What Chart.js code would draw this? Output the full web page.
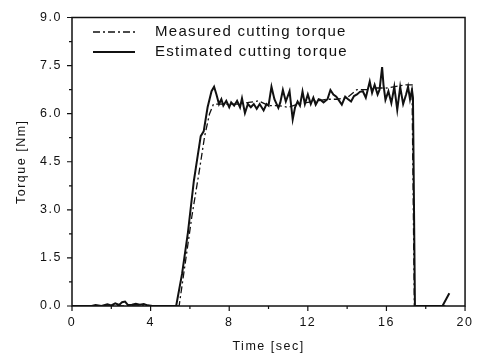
<!DOCTYPE html>
<html>
<head>
<meta charset="utf-8">
<script src="https://cdn.jsdelivr.net/npm/chart.js@4"></script>
<style>
  html, body { margin: 0; padding: 0; background: #fff; }
  #wrap { width: 481px; height: 358px; }
</style>
</head>
<body>
<div id="wrap"><canvas id="chart"></canvas></div>
<script>
// measured torque (dash-dot)
const measTime = [0, 5.45, 5.8, 6.1, 6.5, 6.75, 7.0, 7.2, 7.5, 8.0, 8.5, 9.0, 9.5, 10.0, 10.5, 11.0, 11.5, 12.0, 12.5, 13.0, 13.5, 14.0, 14.5, 15.0, 15.5, 16.0, 16.5, 17.0, 17.3, 17.42, 19.0];
const measTorque = [0, 0, 1.5, 2.8, 4.3, 5.3, 6.0, 6.3, 6.3, 6.3, 6.3, 6.35, 6.4, 6.25, 6.25, 6.2, 6.3, 6.35, 6.4, 6.45, 6.45, 6.5, 6.75, 6.75, 6.8, 6.8, 6.85, 6.9, 6.9, 0, 0];

// estimated torque (solid)
const estTime = [0, 1.0, 1.2, 1.5, 1.8, 2.0, 2.2, 2.4, 2.55, 2.7, 2.85, 3.05, 3.25, 3.45, 3.65, 3.85, 4.1, 5.3,
  5.6, 5.9, 6.2, 6.3, 6.55, 6.7, 6.9, 7.1, 7.23, 7.35, 7.48, 7.6, 7.7, 7.85, 8.0, 8.1, 8.25, 8.4, 8.55, 8.65, 8.8, 8.95,
  9.1, 9.25, 9.4, 9.55, 9.75, 9.9, 10.0, 10.15, 10.3, 10.5, 10.6, 10.73, 10.88, 11.07, 11.23, 11.35, 11.48, 11.6, 11.73, 11.85,
  12.0, 12.15, 12.28, 12.4, 12.55, 12.65, 12.8, 13.0, 13.15, 13.3, 13.45, 13.6, 13.73, 13.9, 14.05, 14.2, 14.35, 14.5, 14.65, 14.8,
  14.95, 15.15, 15.27, 15.4, 15.55, 15.65, 15.78, 15.85, 15.95, 16.1, 16.25, 16.4, 16.55, 16.7, 16.85, 17.0, 17.1, 17.2, 17.3, 17.35,
  17.45, 18.0, 18.85, 19.2];
const estTorque = [0, 0, 0.03, 0, 0.05, 0.02, 0.08, 0.03, 0.12, 0.14, 0.03, 0.04, 0.07, 0.04, 0.06, 0.02, 0, 0,
  1.0, 2.3, 3.9, 4.3, 5.3, 5.45, 6.2, 6.7, 6.84, 6.6, 6.3, 6.45, 6.25, 6.4, 6.2, 6.35, 6.25, 6.4, 6.2, 6.48, 6.02, 6.3,
  6.2, 6.3, 6.15, 6.3, 6.1, 6.3, 6.25, 6.84, 6.45, 6.18, 6.35, 6.74, 6.38, 6.7, 5.82, 6.2, 6.38, 6.25, 6.69, 6.3,
  6.6, 6.3, 6.5, 6.28, 6.45, 6.43, 6.35, 6.45, 6.74, 6.6, 6.53, 6.4, 6.28, 6.53, 6.45, 6.38, 6.55, 6.6, 6.68, 6.7,
  6.5, 7.0, 6.65, 6.9, 6.6, 6.75, 7.45, 6.9, 6.43, 6.7, 6.33, 6.84, 6.12, 6.84, 6.3, 6.6, 6.84, 6.45, 6.74, 6.5,
  0, 0, 0, 0.4];

const xTicks = [0, 4, 8, 12, 16, 20];
const yTicks = [0, 1.5, 3.0, 4.5, 6.0, 7.5, 9.0];
const seriesLabels = ['Measured cutting torque', 'Estimated cutting torque'];

const toPoints = (xs, ys) => xs.map((x, i) => ({ x: x, y: ys[i] }));

const INK = '#111';
const FONT = '"Liberation Sans", Arial, sans-serif';

// frame, outward ticks and legend
const framePlugin = {
  id: 'frame',
  beforeDraw(chart) {
    chart.ctx.letterSpacing = '1.5px';
  },
  afterDraw(chart) {
    const { ctx, chartArea: a, scales } = chart;
    ctx.save();
    ctx.letterSpacing = '0px';
    ctx.strokeStyle = INK;
    ctx.lineWidth = 1.5;
    ctx.strokeRect(a.left, a.top, a.right - a.left, a.bottom - a.top);

    ctx.lineWidth = 1.2;
    ctx.beginPath();
    // y ticks (major + minor)
    for (let v = 0; v <= 9.001; v += 0.75) {
      const y = scales.y.getPixelForValue(v);
      const len = Math.abs(v / 1.5 - Math.round(v / 1.5)) < 0.01 ? 5 : 3;
      ctx.moveTo(a.left - len, y);
      ctx.lineTo(a.left, y);
    }
    // x ticks
    for (let t = 0; t <= 20; t += 2) {
      const x = scales.x.getPixelForValue(t);
      const len = t % 4 === 0 ? 5 : 3;
      ctx.moveTo(x, a.bottom);
      ctx.lineTo(x, a.bottom + len);
    }
    ctx.stroke();

    // legend
    const rows = [32, 52];
    chart.data.datasets.forEach((ds, i) => {
      const y = rows[i];
      ctx.beginPath();
      ctx.setLineDash(ds.borderDash || []);
      ctx.lineWidth = ds.borderWidth;
      ctx.strokeStyle = ds.borderColor;
      ctx.moveTo(93, y);
      ctx.lineTo(135, y);
      ctx.stroke();
      ctx.setLineDash([]);
      ctx.fillStyle = INK;
      ctx.font = '15px ' + FONT;
      ctx.letterSpacing = '1.3px';
      ctx.textBaseline = 'middle';
      ctx.textAlign = 'left';
      ctx.fillText(ds.label, 155, y);
    });
    ctx.restore();
  }
};

new Chart(document.getElementById('chart'), {
  type: 'line',
  data: {
    datasets: [
      {
        label: seriesLabels[0],
        data: toPoints(measTime, measTorque),
        borderColor: INK,
        borderWidth: 1.3,
        borderDash: [7, 3, 2, 3],
        pointRadius: 0,
        tension: 0
      },
      {
        label: seriesLabels[1],
        data: toPoints(estTime, estTorque),
        borderColor: INK,
        borderWidth: 2,
        pointRadius: 0,
        tension: 0
      }
    ]
  },
  options: {
    responsive: true,
    maintainAspectRatio: false,
    animation: false,
    layout: { padding: { top: 13, right: 9, left: 0, bottom: 0 } },
    plugins: {
      legend: { display: false },
      tooltip: { enabled: false }
    },
    scales: {
      x: {
        type: 'linear',
        min: 0,
        max: 20,
        afterFit: s => { s.height = 52; },
        afterBuildTicks: s => { s.ticks = xTicks.map(v => ({ value: v })); },
        ticks: { color: INK, font: { family: FONT, size: 12.5 }, padding: 9, maxRotation: 0 },
        grid: { display: false, drawTicks: false },
        border: { display: false },
        title: { display: true, text: 'Time [sec]', color: INK, font: { family: FONT, size: 12.5 }, padding: { top: 0, bottom: 4 } }
      },
      y: {
        min: 0,
        max: 9,
        afterFit: s => { s.width = 72; },
        afterBuildTicks: s => { s.ticks = yTicks.map(v => ({ value: v })); },
        ticks: { color: INK, font: { family: FONT, size: 12.5 }, padding: 10, callback: v => v.toFixed(1) },
        grid: { display: false, drawTicks: false },
        border: { display: false },
        title: { display: true, text: 'Torque [Nm]', color: INK, font: { family: FONT, size: 12.5 }, padding: { top: 14, bottom: 0 } }
      }
    }
  },
  plugins: [framePlugin]
});
</script>
</body>
</html>
